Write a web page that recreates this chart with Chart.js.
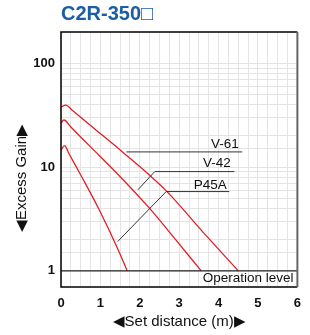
<!DOCTYPE html>
<html>
<head>
<meta charset="utf-8">
<script src="https://cdn.jsdelivr.net/npm/chart.js@4/dist/chart.umd.min.js"></script>
<style>
  body { margin: 0; background: #fff; }
  #wrap { width: 310px; height: 335px; }
</style>
</head>
<body>
<div id="wrap"><canvas id="gainChart" width="310" height="335"></canvas></div>
<script>
// Excess gain vs set distance
const v61Dist = [0, 0.12, 0.3, 0.85, 1.57, 2.69, 3.58, 4.5];
const v61Gain = [37.9, 39.6, 34.8, 23.4, 13.9, 5.8, 2.42, 1];

const v42Dist = [0, 0.075, 0.25, 0.77, 1.46, 2.25, 2.91, 3.56];
const v42Gain = [26.6, 28.4, 24.3, 15.4, 8.4, 4.0, 2.0, 1];

const p45aDist = [0, 0.09, 0.2, 0.5, 0.97, 1.47, 1.68];
const p45aGain = [14.6, 16.1, 13.5, 8.4, 3.88, 1.54, 1];

const operationLevel = 1;
const xRange = [0, 6];
const yRange = [0.7, 200];
const xTickLabels = [0, 1, 2, 3, 4, 5, 6];
const yTickLabels = [1, 10, 100];

// pointer lines from each label to its curve (distance, gain)
const leaders = [
    { text: 'V-61', at: [4.51, 15.3], line: [[1.66, 14.0], [4.6, 14.0]] },
    { text: 'V-42', at: [4.31, 10.05], line: [[1.95, 6.04], [2.38, 9.05], [4.4, 9.05]] },
    { text: 'P45A', at: [4.21, 6.13], line: [[1.44, 1.92], [2.67, 5.81], [4.27, 5.81]] }
];

const toPoints = (xs, ys) => xs.map((x, i) => ({ x: x, y: ys[i] }));

const RED = 'rgb(228, 30, 38)';

const curve = (data) => ({
    data: data,
    borderColor: RED,
    borderWidth: 1.3,
    pointRadius: 0,
    cubicInterpolationMode: 'monotone',
    order: 2
});

const datasets = [
    curve(toPoints(v61Dist, v61Gain)),
    curve(toPoints(v42Dist, v42Gain)),
    curve(toPoints(p45aDist, p45aGain)),
    {
        data: toPoints(xRange, [operationLevel, operationLevel]),
        borderColor: '#222',
        borderWidth: 1.3,
        pointRadius: 0,
        order: 1
    }
];

leaders.forEach(l => {
    datasets.push({
        data: l.line.map(p => ({ x: p[0], y: p[1] })),
        borderColor: '#333',
        borderWidth: 1,
        pointRadius: 0,
        tension: 0,
        order: 1
    });
});

// frame, title and free text
const textPlugin = {
    id: 'textPlugin',
    afterDraw(chart) {
        const { ctx, chartArea: a, scales: { x, y } } = chart;
        ctx.save();

        ctx.strokeStyle = '#000';
        ctx.lineWidth = 1.5;
        ctx.beginPath();
        ctx.moveTo(a.right, a.top);
        ctx.lineTo(a.left, a.top);
        ctx.lineTo(a.left, a.bottom);
        ctx.lineTo(a.right, a.bottom);
        ctx.stroke();
        ctx.strokeStyle = '#666';
        ctx.lineWidth = 2;
        ctx.beginPath();
        ctx.moveTo(a.right, a.top);
        ctx.lineTo(a.right, a.bottom);
        ctx.stroke();

        // chart title
        ctx.fillStyle = '#1a5ca8';
        ctx.font = 'bold 20px "Liberation Sans"';
        ctx.textAlign = 'left';
        ctx.textBaseline = 'alphabetic';
        ctx.fillText('C2R-350□', a.left, 20);

        // curve names
        ctx.fillStyle = '#111';
        ctx.font = '13.5px "Liberation Sans"';
        ctx.textAlign = 'right';
        leaders.forEach(l => {
            ctx.fillText(l.text, x.getPixelForValue(l.at[0]), y.getPixelForValue(l.at[1]));
        });
        ctx.fillText('Operation level', x.getPixelForValue(5.9), y.getPixelForValue(0.79));

        // y axis title
        ctx.font = '15px "Liberation Sans"';
        ctx.textAlign = 'center';
        ctx.textBaseline = 'middle';
        ctx.translate(22, 178);
        ctx.rotate(-Math.PI / 2);
        ctx.fillText('◀Excess Gain▶', 0, 0);

        ctx.restore();
    }
};

const ctx = document.getElementById('gainChart').getContext('2d');
const gainChart = new Chart(ctx, {
    type: 'line',
    data: { datasets: datasets },
    options: {
        responsive: false,
        animation: false,
        layout: { padding: { top: 32, right: 8, left: 0, bottom: 0 } },
        plugins: {
            legend: { display: false },
            tooltip: { enabled: false }
        },
        scales: {
            x: {
                type: 'linear',
                min: xRange[0],
                max: xRange[1],
                border: { display: false },
                grid: { color: '#e4e4e4', drawTicks: false },
                ticks: {
                    stepSize: 0.25,
                    autoSkip: false,
                    maxRotation: 0,
                    padding: 9,
                    color: '#111',
                    font: { family: 'Liberation Sans', size: 13, weight: 'bold' },
                    callback: v => xTickLabels.includes(v) ? String(v) : ''
                },
                title: {
                    display: true,
                    text: '◀Set distance (m)▶',
                    color: '#111',
                    font: { family: 'Liberation Sans', size: 15 },
                    padding: { top: 0, bottom: 4 }
                },
                afterFit: s => { s.height = 48; }
            },
            y: {
                type: 'logarithmic',
                min: yRange[0],
                max: yRange[1],
                border: { display: false },
                grid: {
                    drawTicks: false,
                    color: c => (c.tick && c.tick.value >= 1 && c.tick.value <= 100) ? '#e4e4e4' : 'rgba(0,0,0,0)'
                },
                ticks: {
                    autoSkip: false,
                    padding: 6,
                    color: '#111',
                    font: { family: 'Liberation Sans', size: 13, weight: 'bold' },
                    callback: v => yTickLabels.includes(v) ? String(v) : ''
                },
                afterFit: s => { s.width = 61; }
            }
        }
    },
    plugins: [textPlugin]
});
</script>
</body>
</html>
